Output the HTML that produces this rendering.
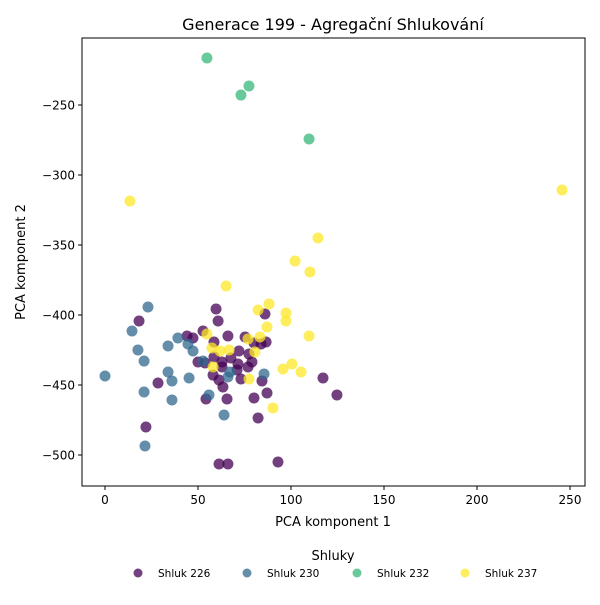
<!DOCTYPE html>
<html><head><meta charset="utf-8"><style>
body{margin:0;background:#fff;font-family:"Liberation Sans","DejaVu Sans",sans-serif}
svg text{font-family:"DejaVu Sans","Liberation Sans",sans-serif}
</style></head><body>
<svg id="chart" width="600" height="600">
<rect width="600" height="600" fill="#fff"/>
<text x="333" y="30" font-size="16" text-anchor="middle">Generace 199 - Agregační Shlukování</text>
<rect x="82" y="38" width="503" height="448" fill="none" stroke="#000" stroke-width="1"/>
<g id="xt"></g>
<g id="yt"></g>
<g id="pts"></g>
<text x="333" y="526" font-size="13" text-anchor="middle">PCA komponent 1</text>
<text x="25" y="262" font-size="13" text-anchor="middle" transform="rotate(-90 25 262)">PCA komponent 2</text>
<text x="333" y="560" font-size="13" text-anchor="middle">Shluky</text>
<g id="leg"></g>
</svg>
<script>
const xTicks=[0,50,100,150,200,250];
const yTicks=[-250,-300,-350,-400,-450,-500];
const clusterNames=["Shluk 226","Shluk 230","Shluk 232","Shluk 237"];
const colors=["#440154","#31688e","#35b779","#fde725"];
const x226=[59.7,60.8,86.0,52.7,66.1,75.3,47.3,58.6,86.6,83.9,80.1,72.0,77.4,50.0,53.8,58.6,62.9,67.7,71.5,79.0,76.9,62.9,71.0,58.1,61.3,73.1,84.4,63.4,87.1,54.3,65.6,80.1,82.3,117.2,124.7,61.3,66.1,93.0,18.3,28.5,22.0,44.1];
const y226=[-395.7,-404.3,-399.3,-411.4,-415,-415.7,-416.4,-419.3,-419.3,-420.7,-420,-425.7,-427.9,-433.6,-434.3,-430,-433.6,-430.7,-435,-433.6,-437.1,-437.1,-439.3,-442.9,-446.4,-445.7,-447.1,-451.4,-455.7,-460,-460,-459.3,-473.6,-445,-457.1,-506.4,-506.4,-505,-404.3,-448.6,-480,-415];
const x230=[23.1,14.5,17.7,21.0,0,33.9,39.2,44.6,47.3,33.9,36.0,45.2,21.0,36.0,21.5,52.7,85.5,55.9,66.1,64.0,67.2];
const y230=[-394.3,-411.4,-425,-432.9,-443.6,-422.1,-416.4,-420.7,-425.7,-440.7,-447.1,-445,-455,-460.7,-493.6,-432.9,-442.1,-457.1,-444.3,-471.4,-440.7];
const x232=[54.8,77.4,73.1,109.7];
const y232=[-216.4,-236.4,-242.9,-274.3];
const x237=[13.4,245.7,114.5,102.2,110.2,65.1,82.3,88.2,97.3,97.3,87.1,109.7,54.8,76.9,83.3,57.5,61.8,66.7,80.6,58.1,77.4,95.7,100.5,105.4,90.3];
const y237=[-318.6,-310.7,-345,-361.4,-369.3,-379.3,-396.4,-392.1,-398.6,-404.3,-408.6,-415,-413.6,-417.1,-415.7,-423.6,-425.7,-425,-426.4,-437.1,-445.7,-438.6,-435,-440.7,-466.4];
const NS="http://www.w3.org/2000/svg";
function sx(v){return 105+v*1.86;}
function sy(v){return 105-(v+250)*1.4;}
function mk(tag,attrs,parent){const e=document.createElementNS(NS,tag);for(const k in attrs)e.setAttribute(k,attrs[k]);parent.appendChild(e);return e;}
const xt=document.getElementById('xt'),yt=document.getElementById('yt');
xTicks.forEach(t=>{
  const l=mk('line',{x1:sx(t),x2:sx(t),y1:486,y2:490,stroke:'#000'},xt);
  
  
  const tx=mk('text',{x:sx(t),y:504,'font-size':12,'text-anchor':'middle'},xt);
  tx.textContent=t;
  
  
});
yTicks.forEach(t=>{
  const l=mk('line',{x1:78,x2:82,y1:sy(t),y2:sy(t),stroke:'#000'},yt);
  
  
  const tx=mk('text',{x:75,y:sy(t)+4.5,'font-size':12,'text-anchor':'end'},yt);
  tx.textContent='\u2212'+Math.abs(t);
  
  
});
const series=[[x226,y226],[x230,y230],[x232,y232],[x237,y237]];
const pts=document.getElementById('pts');
series.forEach((s,i)=>{
  s[0].forEach((xv,j)=>{
    const c=mk('circle',{cx:sx(xv),cy:sy(s[1][j]),r:5.5,fill:colors[i],'fill-opacity':0.75},pts);
    
    
  });
});
const leg=document.getElementById('leg');
const lx=[138,247,357,465];
clusterNames.forEach((n,i)=>{
  const c=mk('circle',{cx:lx[i],cy:573,r:4.5,fill:colors[i],'fill-opacity':0.75},leg);
  
  
  const t=mk('text',{x:lx[i]+20,y:577,'font-size':10.5},leg);
  t.textContent=n;
  
  
});
</script>
</body></html>
